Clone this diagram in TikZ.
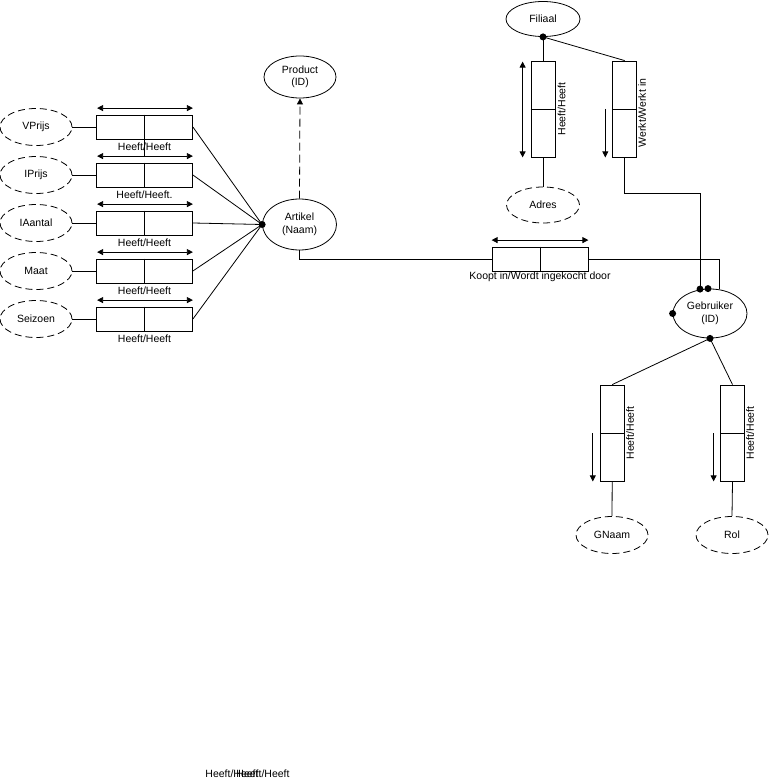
\documentclass[tikz,border=0pt]{standalone}
\usepackage{fontspec}
\setmainfont{Liberation Sans}
\usetikzlibrary{shapes.geometric,arrows.meta}
\begin{document}
\begin{tikzpicture}[x=1pt,y=-1pt,line width=0.8pt,
  font=\fontsize{10.5}{12.5}\selectfont,
  attr/.style={ellipse,draw,dash pattern=on 7pt off 4pt,minimum width=72pt,minimum height=37pt,inner sep=0pt,align=center},
  ent/.style={ellipse,draw,solid,minimum width=74pt,minimum height=48pt,inner sep=0pt,align=center},
  relh/.style={rectangle,draw,minimum width=96pt,minimum height=24pt,inner sep=0pt},
  relv/.style={rectangle,draw,minimum width=24pt,minimum height=96pt,inner sep=0pt},
  jdot/.style={circle,fill,inner sep=0pt,minimum size=7pt},
  tip/.style={-{Triangle[length=6pt,width=6pt]}},
  dtip/.style={{Triangle[length=6pt,width=6pt]}-{Triangle[length=6pt,width=6pt]}},
  vlbl/.style={rotate=90,inner sep=0pt}]
\useasboundingbox (0,0) rectangle (769,783);

% ---------- Artikel and Product
\node[ent,minimum width=74pt,minimum height=51pt] (art) at (299.5,224.5) {Artikel\\(Naam)};
\node[ent,minimum width=72pt,minimum height=42pt] (prod) at (300,77) {Product\\(ID)};
\draw[tip,dash pattern=on 8pt off 4pt] (art.north) -- (prod.south);
\node[jdot] (artdot) at (art.west) {};

% ---------- attributes on the left
\foreach \nm/\txt/\lab/\yy in {a1/VPrijs/{Heeft/Heeft}/127, a2/IPrijs/{Heeft/Heeft.}/175, a3/IAantal/{Heeft/Heeft}/223, a4/Maat/{Heeft/Heeft}/271, a5/Seizoen/{Heeft/Heeft}/319}{
  \node[attr] (\nm) at (36,\yy) {\txt};
  \node[relh] (r\nm) at (144.5,\yy) {};
  \draw (r\nm.north) -- (r\nm.south);
  \draw (\nm.east) -- (r\nm.west);
  \draw[dtip] ([xshift=1pt,yshift=6.5pt]r\nm.north west) -- ([yshift=6.5pt]r\nm.north east);
  \draw (r\nm.east) -- (artdot.center);
  \node[inner sep=0pt] (l\nm) at ([yshift=-7pt]r\nm.south) {\lab};
}
\draw (ra1.south) -- ([yshift=-17pt]ra1.south);

% ---------- Koopt in
\node[relh] (koop) at (540,259) {};
\draw (koop.north) -- (koop.south);
\draw[dtip] ([yshift=6.5pt]koop.north west) -- ([yshift=6.5pt]koop.north east);
\node[inner sep=0pt] (lkoop) at (540,277) {Koopt in/Wordt ingekocht door};

% ---------- Gebruiker
\node[ent,minimum width=74pt,minimum height=49pt] (geb) at (710,313.5) {Gebruiker\\(ID)};
\coordinate (kc) at (719,259);
\draw (art.south) -- (art.south |- koop.west) -- (koop.west);
\draw (koop.east) -- (kc) -- ([xshift=9pt,yshift=-0.7pt]geb.north);
\node[jdot] (gd1) at ([xshift=-10pt,yshift=-0.5pt]geb.north) {};
\node[jdot] (gd2) at ([xshift=-2pt]geb.north) {};
\node[jdot] (gd3) at (geb.west) {};
\node[jdot] (gd4) at (geb.south) {};

% ---------- Filiaal
\node[ent,minimum width=74pt,minimum height=35pt] (fil) at (543,19) {Filiaal};
\node[jdot] (fd) at (fil.south) {};
\node[relv] (hb) at (543,109) {};
\draw (hb.west) -- (hb.east);
\node[relv] (wb) at (624.7,109) {};
\draw (wb.west) -- (wb.east);
\node[attr,minimum width=73pt,minimum height=36pt] (adres) at (543,205) {Adres};
\draw (fd.center) -- (hb.north);
\draw (fd.center) -- (wb.north);
\draw (hb.south) -- (adres.north);
\draw[dtip] ([xshift=-8pt,yshift=-1pt]hb.north west) -- ([xshift=-8pt]hb.south west);
\draw[tip] ([xshift=-7pt]wb.west) -- ([xshift=-7pt]wb.south west);
\node[vlbl] (lhb) at (561.5,109) {Heeft/Heeft};
\node[vlbl] (lwb) at (642,113) {Werkt/Werkt in};
\coordinate (wc1) at (624.7,193);
\coordinate (wc2) at (gd1 |- wc1);
\draw (wb.south) -- (wc1) -- (wc2) -- (gd1.center);

% ---------- GNaam and Rol
\node[relv] (gb) at (612.2,433) {};
\draw (gb.west) -- (gb.east);
\node[relv] (rb) at (732.5,433) {};
\draw (rb.west) -- (rb.east);
\draw (gd4.center) -- (gb.north);
\draw (gd4.center) -- (rb.north);
\draw[tip] ([xshift=-7pt]gb.west) -- ([xshift=-7pt]gb.south west);
\draw[tip] ([xshift=-6.5pt]rb.west) -- ([xshift=-6.5pt]rb.south west);
\node[vlbl] (lgb) at (630,433) {Heeft/Heeft};
\node[vlbl] (lrb) at (750,433) {Heeft/Heeft};
\node[attr] (gnaam) at (612,535) {GNaam};
\node[attr] (rol) at (732,535) {Rol};
\draw (gb.south) -- (gnaam.north);
\draw (rb.south) -- (rol.north);

% ---------- stray labels at the bottom (overlapping, as in the reference)
\node[inner sep=0pt] (s1) at (232,774) {Heeft/Heeft};
\node[inner sep=0pt] (s2) at (263,774) {Heeft/Heeft};
\end{tikzpicture}
\end{document}
